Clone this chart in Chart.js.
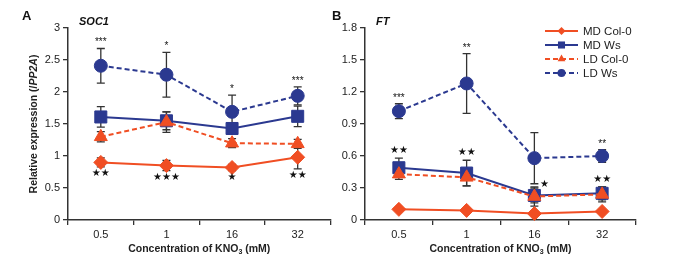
<!DOCTYPE html>
<html>
<head>
<meta charset="utf-8">
<script src="https://cdn.jsdelivr.net/npm/chart.js@4.4.0/dist/chart.umd.min.js"></script>
<style>
  body { margin: 0; background: #fff; width: 681px; height: 264px; position: relative; overflow: hidden; }
  #ca { position: absolute; left: 0; top: 0; }
  #cb { position: absolute; left: 320px; top: 0; }
</style>
</head>
<body>
<canvas id="ca" width="340" height="264"></canvas>
<canvas id="cb" width="361" height="264"></canvas>
<script>
// categories (KNO3 concentration, mM)
var categories = ['0.5', '1', '16', '32'];
var seriesNames = ['MD Col-0', 'MD Ws', 'LD Col-0', 'LD Ws'];

// panel A - SOC1
var socMdCol = [0.90, 0.85, 0.82, 0.98];
var socMdColErr = [0.07, 0.08, 0.05, 0.18];
var socMdWs = [1.61, 1.55, 1.43, 1.62];
var socMdWsErr = [0.16, 0.14, 0.08, 0.16];
var socLdCol = [1.30, 1.53, 1.20, 1.19];
var socLdColErr = [0.08, 0.16, 0.07, 0.07];
var socLdWs = [2.41, 2.27, 1.69, 1.94];
var socLdWsErr = [0.27, 0.35, 0.26, 0.14];
var socTicks = [0, 0.5, 1, 1.5, 2, 2.5, 3];
var socAsterisks = ['***', '*', '*', '***'];   // over LD Ws
var socStars = ['★★', '★★★', '★', '★★'];       // under MD Col-0

// panel B - FT
var ftMdCol = [0.10, 0.09, 0.06, 0.08];
var ftMdColErr = [0.01, 0.01, 0.01, 0.01];
var ftMdWs = [0.49, 0.44, 0.23, 0.25];
var ftMdWsErr = [0.09, 0.12, 0.07, 0.06];
var ftLdCol = [0.43, 0.40, 0.22, 0.24];
var ftLdColErr = [0.05, 0.08, 0.09, 0.07];
var ftLdWs = [1.02, 1.28, 0.58, 0.60];
var ftLdWsErr = [0.07, 0.28, 0.24, 0.06];
var ftTicks = [0, 0.3, 0.6, 0.9, 1.2, 1.5, 1.8];
var ftAsterisks = ['***', '**', '', '**'];     // over LD Ws
var ftStars = ['★★', '★★', '★', '★★'];         // over MD Ws
var ftStarsBeside = [false, false, true, false];

var red = '#F04E23';
var blue = '#2B3990';
var dark = '#333333';
var FONT = '"Liberation Sans", Arial, sans-serif';

var styles = [
  { color: red, point: 'rectRot', radius: 7, dash: [], legR: 4 },
  { color: blue, point: 'rect', radius: 8.5, dash: [], legR: 5 },
  { color: red, point: 'triangle', radius: 7.5, dash: [5, 3], legR: 4.5 },
  { color: blue, point: 'circle', radius: 6.5, dash: [5, 3], legR: 4 }
];
var drawOrder = [4, 3, 2, 1];

function makeDatasets(vals, errs) {
  return vals.map(function (v, i) {
    var s = styles[i];
    return {
      label: seriesNames[i],
      data: v,
      errors: errs[i],
      borderColor: s.color,
      backgroundColor: s.color,
      borderWidth: 2,
      borderDash: s.dash,
      pointStyle: s.point,
      pointRadius: s.radius,
      pointHoverRadius: s.radius,
      pointBorderWidth: 1,
      pointBackgroundColor: s.color,
      pointBorderColor: s.color,
      tension: 0,
      clip: false,
      order: drawOrder[i]
    };
  });
}

function decor(opt) {
  return {
    id: 'decor',
    beforeDatasetsDraw: function (chart) {
      var ctx = chart.ctx, y = chart.scales.y;
      ctx.save();
      ctx.strokeStyle = dark;
      ctx.lineWidth = 1.3;
      chart.data.datasets.forEach(function (ds, di) {
        var meta = chart.getDatasetMeta(di);
        ds.data.forEach(function (v, i) {
          var x = meta.data[i].x;
          var e = ds.errors[i];
          var yt = y.getPixelForValue(v + e), yb = y.getPixelForValue(v - e);
          ctx.beginPath();
          ctx.moveTo(x, yt); ctx.lineTo(x, yb);
          ctx.moveTo(x - 4, yt); ctx.lineTo(x + 4, yt);
          ctx.moveTo(x - 4, yb); ctx.lineTo(x + 4, yb);
          ctx.stroke();
        });
      });
      ctx.restore();
    },
    afterDatasetsDraw: function (chart) {
      var ctx = chart.ctx, y = chart.scales.y, area = chart.chartArea;
      var dsets = chart.data.datasets;
      ctx.save();
      ctx.fillStyle = '#111';
      ctx.textAlign = 'center';

      // asterisks over LD Ws
      var ldMeta = chart.getDatasetMeta(3);
      ctx.font = '10px ' + FONT;
      ctx.textBaseline = 'alphabetic';
      opt.asterisks.forEach(function (t, i) {
        if (!t) return;
        var top = y.getPixelForValue(dsets[3].data[i] + dsets[3].errors[i]);
        ctx.fillText(t, ldMeta.data[i].x, top - 3);
      });

      // black stars
      var sd = opt.starSeries, sMeta = chart.getDatasetMeta(sd);
      ctx.font = '10px "DejaVu Sans", sans-serif';
      ctx.textBaseline = 'middle';
      opt.stars.forEach(function (t, i) {
        var x = sMeta.data[i].x;
        var v = dsets[sd].data[i], e = dsets[sd].errors[i];
        if (opt.beside && opt.beside[i]) {
          ctx.fillText(t, x + 10, y.getPixelForValue(v + e) - 4);
        } else if (opt.starsBelow) {
          ctx.fillText(t, x, y.getPixelForValue(v - e) + 7);
        } else {
          ctx.fillText(t, x, y.getPixelForValue(v + e) - 8);
        }
      });

      // panel letter and gene name
      ctx.textAlign = 'left';
      ctx.textBaseline = 'middle';
      ctx.fillStyle = '#111';
      ctx.font = 'bold 13px ' + FONT;
      ctx.fillText(opt.letter, opt.letterX, 16);
      ctx.font = 'italic bold 11px ' + FONT;
      ctx.fillText(opt.gene, opt.geneX, 22);

      // x axis title with subscript
      ctx.fillStyle = '#222';
      var cx = (area.left + area.right) / 2, ty = 248;
      var p1 = 'Concentration of KNO', p2 = '3', p3 = ' (mM)';
      ctx.font = 'bold 10.5px ' + FONT;
      var w1 = ctx.measureText(p1).width, w3 = ctx.measureText(p3).width;
      ctx.font = 'bold 7px ' + FONT;
      var w2 = ctx.measureText(p2).width;
      var sx = cx - (w1 + w2 + w3) / 2;
      ctx.textBaseline = 'alphabetic';
      ctx.font = 'bold 10.5px ' + FONT;
      ctx.fillText(p1, sx, ty + 4);
      ctx.font = 'bold 7px ' + FONT;
      ctx.fillText(p2, sx + w1, ty + 6);
      ctx.font = 'bold 10.5px ' + FONT;
      ctx.fillText(p3, sx + w1 + w2, ty + 4);

      // y axis title (left panel only)
      if (opt.yTitle) {
        ctx.save();
        ctx.translate(34, (area.top + area.bottom) / 2);
        ctx.rotate(-Math.PI / 2);
        var parts = [['Relative expression (/', 'bold 10.5px '], ['PP2A', 'italic bold 10.5px '], [')', 'bold 10.5px ']];
        var tw = 0;
        parts.forEach(function (p) { ctx.font = p[1] + FONT; tw += ctx.measureText(p[0]).width; });
        var px = -tw / 2;
        ctx.textBaseline = 'middle';
        parts.forEach(function (p) {
          ctx.font = p[1] + FONT;
          ctx.fillText(p[0], px, 0);
          px += ctx.measureText(p[0]).width;
        });
        ctx.restore();
      }

      // legend
      if (opt.legend) {
        var lx = 225, ly = 31;
        dsets.forEach(function (ds, i) {
          var s = styles[i], yy = ly + i * 14;
          ctx.save();
          ctx.strokeStyle = s.color;
          ctx.lineWidth = 2;
          ctx.setLineDash(s.dash);
          ctx.beginPath();
          ctx.moveTo(lx, yy); ctx.lineTo(lx + 33, yy);
          ctx.stroke();
          ctx.setLineDash([]);
          ctx.fillStyle = s.color;
          Chart.helpers.drawPoint(ctx, { pointStyle: s.point, radius: s.legR, borderWidth: 0 }, lx + 16.5, yy);
          ctx.restore();
          ctx.fillStyle = '#222';
          ctx.font = '11.5px ' + FONT;
          ctx.textBaseline = 'middle';
          ctx.textAlign = 'left';
          ctx.fillText(ds.label, lx + 38, yy + 1);
        });
      }
      ctx.restore();
    }
  };
}

function makeChart(id, datasets, ticks, max, yWidth, padRight, opt) {
  return new Chart(document.getElementById(id), {
    type: 'line',
    data: { labels: categories, datasets: datasets },
    options: {
      responsive: false,
      animation: false,
      devicePixelRatio: 1,
      layout: { padding: { left: 0, right: padRight, top: 28, bottom: 0 } },
      plugins: { legend: { display: false }, tooltip: { enabled: false } },
      scales: {
        x: {
          type: 'category',
          offset: true,
          afterFit: function (s) { s.height = 44; },
          grid: { offset: true, drawOnChartArea: false, drawTicks: true, tickLength: 5, color: dark, lineWidth: 1.3 },
          border: { display: true, color: dark, width: 1.5 },
          ticks: { color: '#222', font: { family: FONT, size: 11 }, padding: 3, maxRotation: 0 }
        },
        y: {
          min: 0, max: max,
          afterFit: function (s) { s.width = yWidth; },
          afterBuildTicks: function (s) { s.ticks = ticks.map(function (v) { return { value: v }; }); },
          grid: { drawOnChartArea: false, drawTicks: true, tickLength: 5, color: dark, lineWidth: 1.3 },
          border: { display: true, color: dark, width: 1.5 },
          ticks: {
            color: '#222', font: { family: FONT, size: 11 }, padding: 3,
            callback: function (v) { return String(Math.round(v * 10) / 10); }
          }
        }
      }
    },
    plugins: [decor(opt)]
  });
}

makeChart('ca',
  makeDatasets([socMdCol, socMdWs, socLdCol, socLdWs], [socMdColErr, socMdWsErr, socLdColErr, socLdWsErr]),
  socTicks, 3, 68, 4,
  { asterisks: socAsterisks, stars: socStars, starSeries: 0, starsBelow: true,
    letter: 'A', letterX: 22, gene: 'SOC1', geneX: 79, yTitle: true, legend: false });

makeChart('cb',
  makeDatasets([ftMdCol, ftMdWs, ftLdCol, ftLdWs], [ftMdColErr, ftMdWsErr, ftLdColErr, ftLdWsErr]),
  ftTicks, 1.8, 45, 45,
  { asterisks: ftAsterisks, stars: ftStars, starSeries: 1, starsBelow: false, beside: ftStarsBeside,
    letter: 'B', letterX: 12, gene: 'FT', geneX: 56, yTitle: false, legend: true });
</script>
</body>
</html>
